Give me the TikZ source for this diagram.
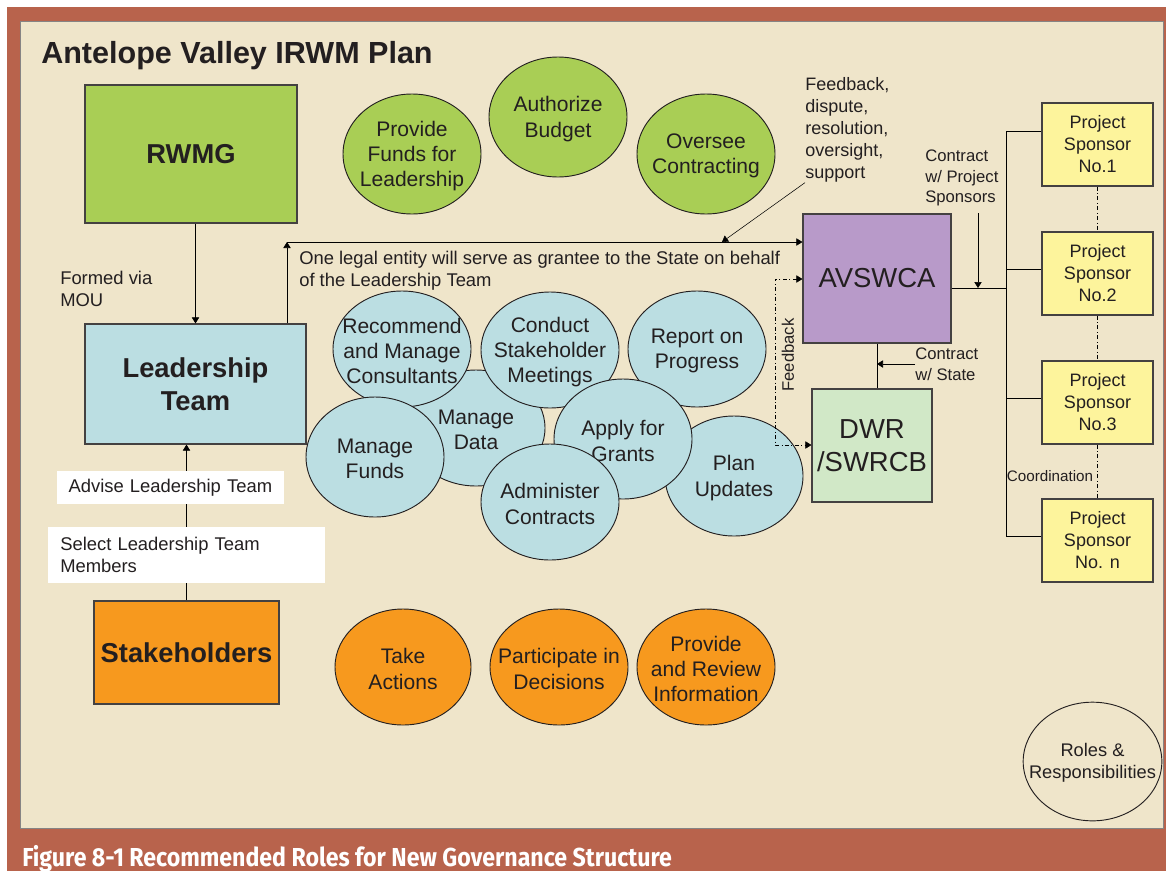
\documentclass[tikz,border=0pt]{standalone}
\usepackage{fontspec}
\setmainfont{Liberation Sans}
\newfontfamily\capfont[FakeStretch=0.89]{Fira Sans}
\usetikzlibrary{shapes.geometric,arrows.meta}
\definecolor{frameBrown}{HTML}{B8634C}
\definecolor{paper}{HTML}{EFE5CA}
\definecolor{ink}{HTML}{231F20}
\definecolor{rwmgGreen}{HTML}{A9CE55}
\definecolor{teamBlue}{HTML}{BBDEE2}
\definecolor{stakeOrange}{HTML}{F7991E}
\definecolor{avPurple}{HTML}{B89AC9}
\definecolor{dwrGreen}{HTML}{D1E8C7}
\definecolor{sponsorYellow}{HTML}{FDF49C}

\begin{document}
\begin{tikzpicture}[x=0.75pt,y=-0.75pt, >={Triangle[length=4.5pt,width=5.5pt]},
  every node/.style={text=ink,align=center,inner sep=0pt},
  unit/.style={draw=ink!85,line width=0.9pt,font=\fontsize{20.5}{24.5}\selectfont\bfseries},
  agency/.style={draw=ink!85,line width=0.9pt,font=\fontsize{20.6}{24.75}\selectfont},
  role/.style={ellipse,draw=ink,line width=0.7pt,minimum width=103.5pt,minimum height=87pt},
  roletext/.style={font=\fontsize{15.8}{19}\selectfont,yshift=-1.5pt},
  sponsor/.style={draw=ink!85,line width=0.9pt,fill=sponsorYellow,minimum width=83.25pt,minimum height=62.25pt,font=\fontsize{13.5}{16.5}\selectfont},
  note/.style={anchor=west,align=left,font=\fontsize{13.8}{16.5}\selectfont},
  small/.style={anchor=west,align=left,font=\fontsize{12.5}{15.4}\selectfont},
  tag/.style={fill=white,anchor=west,align=left,inner xsep=8.5pt,font=\fontsize{13.8}{16.5}\selectfont}]
\useasboundingbox (0,0) rectangle (1166,871);
\fill[frameBrown] (7,7) rectangle (1166,871);
\filldraw[fill=paper,draw=ink!55,line width=0.6pt] (20,21) rectangle (1163,828);
\node[anchor=base west,font=\fontsize{22.9}{27}\selectfont\bfseries] (title) at (41,63) {Antelope Valley IRWM Plan};

\node[unit,fill=rwmgGreen,minimum width=159pt,minimum height=103.5pt] (rwmg) at (191,154) {RWMG};
\node[unit,fill=teamBlue,minimum width=165.75pt,minimum height=90pt] (lead) at (195.5,384) {Leadership\\Team};
\node[unit,fill=stakeOrange,minimum width=138.75pt,minimum height=77.25pt] (stake) at (186.5,652.5) {Stakeholders};

% funding side
\node[role,fill=rwmgGreen,minimum height=90pt,label={[roletext]center:{Provide\\Funds for\\Leadership}}] (provide) at (412,154) {};
\node[role,fill=rwmgGreen,minimum height=90pt,label={[roletext]center:{Authorize\\Budget}}] (budget) at (558,117) {};
\node[role,fill=rwmgGreen,minimum height=90pt,label={[roletext]center:{Oversee\\Contracting}}] (oversee) at (706,154) {};

% leadership team duties
\node[role,fill=teamBlue,label={[roletext]center:{Manage\\Data}}] (data) at (476,428) {};
\node[role,fill=teamBlue,label={[roletext]center:{Recommend\\and Manage\\Consultants}}] (consult) at (402,349) {};
\node[role,fill=teamBlue,label={[roletext]center:{Conduct\\Stakeholder\\Meetings}}] (meet) at (550,350) {};
\node[role,fill=teamBlue,label={[roletext]center:{Report on\\Progress}}] (report) at (697,349) {};
\node[role,fill=teamBlue,minimum height=90pt,label={[roletext]center:{Plan\\Updates}}] (plan) at (734,476) {};
\node[role,fill=teamBlue,minimum height=90pt,label={[roletext]center:{Apply for\\Grants}}] (apply) at (623,439) {};
\node[role,fill=teamBlue,minimum height=90pt,label={[roletext]center:{Manage\\Funds}}] (mfunds) at (375,457) {};
\node[role,fill=teamBlue,label={[roletext]center:{Administer\\Contracts}}] (admin) at (550,502) {};

% stakeholder duties
\node[role,fill=stakeOrange,minimum width=102pt,label={[roletext]center:{Take\\Actions}}] (act) at (403,667) {};
\node[role,fill=stakeOrange,label={[roletext]center:{Participate in\\Decisions}}] (decide) at (559,667) {};
\node[role,fill=stakeOrange,label={[roletext]center:{Provide\\and Review\\Information}}] (inform) at (706,667) {};

\node[role,minimum width=104pt,minimum height=89pt,label={[font=\fontsize{13.7}{16.5}\selectfont,yshift=-1pt]center:{Roles \&\\Responsibilities}}] (legend) at (1092.5,761.5) {};

\node[agency,fill=avPurple,minimum width=111pt,minimum height=96.75pt] (avswca) at (877,278.5) {AVSWCA};
\node[agency,fill=dwrGreen,minimum width=90pt,minimum height=84.75pt] (dwr) at (872,445.5) {DWR\\/SWRCB};
\foreach \i/\y/\t in {1/144.5/No.1,2/273.5/No.2,3/402.5/No.3,n/540.5/No. n}
  \node[sponsor] (sp\i) at (1097.5,\y) {Project\\Sponsor\\\t};

\node[note] (formed) at (60,289) {Formed via\\MOU};
\node[note] (grantee) at (299,271) {One legal entity will serve as grantee to the State on behalf\\of the Leadership Team};
\node[note,font=\fontsize{13.5}{16.5}\selectfont] (fbnote) at (805,130) {Feedback,\\dispute,\\resolution,\\oversight,\\support};
\node[small] (cwps) at (925,178) {Contract\\w/ Project\\Sponsors};
\node[small] (cwstate) at (915,364) {Contract\\w/ State};
\node[font=\fontsize{12.5}{15}\selectfont,rotate=90] (fbside) at (788,355) {Feedback};
\node[font=\fontsize{11.4}{13}\selectfont] (coord) at (1050,476) {Coordination};

\draw[->] (lead.north |- rwmg.south) -- (lead.north);
\draw[->] (stake.north) -- (stake.north |- lead.south);
\node[tag,text width=153pt,minimum height=24.75pt] (advise) at (57,487.5) {Advise Leadership Team};
\node[tag,inner xsep=9pt,text width=189.75pt,minimum height=42pt] (select) at (48,555) {Select Leadership Team\\Members};

\coordinate (grant) at (287,242);
\coordinate (fbtip) at (722,242);
\draw[->] (grant |- lead.north) -- (grant);
\draw[->] (grant) -- (grant -| avswca.west);
\draw[->] (fbnote.south west) -- (fbtip);

\coordinate (fbtop) at (775,279);
\coordinate (fbbot) at (775,445);
\draw[<->,dashdotted] (fbtop -| avswca.west) -- (fbtop) -- (fbbot) -- (fbbot -| dwr.west);
\draw (avswca.south) -- (avswca.south |- dwr.north);
\draw[->] (cwstate.west) -- (cwstate.west -| avswca.south);

\coordinate (bus) at (1006,288);
\coordinate (cwtip) at (978,288);
\draw (avswca.east |- bus) -- (bus);
\draw[->] (cwtip |- avswca.north) -- (cwtip);
\foreach \i/\y in {1/131,2/269,3/398,n/536} {
  \coordinate (tap\i) at (1006,\y);
  \draw (tap\i) -- (tap\i -| sp\i.west);
}
\draw (tap1) -- (tapn);
\foreach \i/\j in {1/2,2/3,3/n} \draw[dashdotted] (sp\i.south) -- (sp\j.north);

\node[anchor=base west,text=white,font=\capfont\bfseries\fontsize{19.5}{22}\selectfont] (caption) at (22,866) {Figure 8-1 Recommended Roles for New Governance Structure};
\end{tikzpicture}
\end{document}
